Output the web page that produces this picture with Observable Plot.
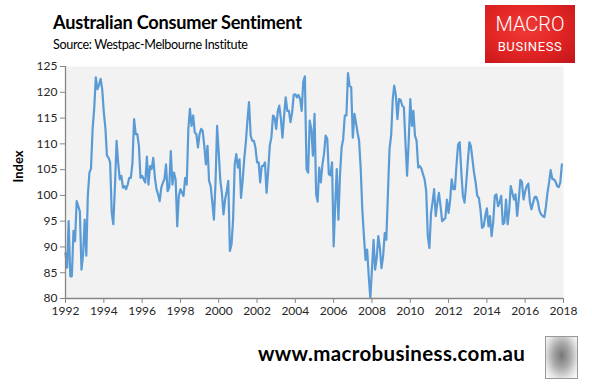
<!DOCTYPE html>
<html>
<head>
<meta charset="utf-8">
<script src="https://cdn.jsdelivr.net/npm/d3@7"></script>
<script src="https://cdn.jsdelivr.net/npm/@observablehq/plot@0.6"></script>
<style>
  html, body { margin: 0; padding: 0; background: #fff; }
  #wrap { position: relative; width: 592px; height: 390px; overflow: hidden; font-family: Lato, "Open Sans", sans-serif; }
  #chart { position: absolute; left: 0; top: 0; }
  .title { position: absolute; left: 53px; top: 11px; font-size: 18.2px; letter-spacing: -0.25px; font-weight: bold; color: #000; white-space: nowrap; }
  .sub { position: absolute; left: 53px; top: 37px; font-size: 12.6px; letter-spacing: -0.35px; color: #000; white-space: nowrap; }
  .logo { position: absolute; left: 485px; top: 5px; width: 90px; height: 58px;
          background: radial-gradient(ellipse at 45% 40%, #f03a35 0%, #e02424 55%, #c0161a 100%); color: #fff; text-align: center; }
  .logo .m { position: absolute; left: 0; width: 90px; top: 9px; font-family: Roboto, sans-serif; font-weight: 300; font-size: 20px; line-height: 20px; }
  .logo .b { position: absolute; left: 0; width: 90px; top: 35px; font-family: Roboto, sans-serif; font-weight: 400; font-size: 13px; letter-spacing: 0.6px; line-height: 14px; }
  .foot { position: absolute; left: 258px; top: 341px; font-size: 20.5px; letter-spacing: 0.35px; font-weight: bold; color: #000; white-space: nowrap; }
  .wolf { position: absolute; left: 545px; top: 336px; width: 33px; height: 43px; border: 1.5px solid #999; box-sizing: border-box;
          background: radial-gradient(ellipse at 50% 45%, #777 0%, #aaa 40%, #e6e6e6 75%, #fff 100%); }
</style>
</head>
<body>
<div id="wrap">
  <div id="chart"></div>
  <div class="title">Australian Consumer Sentiment</div>
  <div class="sub">Source: Westpac-Melbourne Institute</div>
  <div class="logo"><div class="m">MACRO</div><div class="b">BUSINESS</div></div>
  <div class="foot">www.macrobusiness.com.au</div>
  <div class="wolf"></div>
</div>
<script>
// Monthly index values, Jan 1992 .. Dec 2017 (one row per year)
const startYear = 1992;
const sentiment = [
  88.8, 86, 95, 84.3, 84.3, 93.1, 91.1, 98.9, 97.9, 96.9, 85.6, 88.5,
  95.3, 88.3, 99.9, 104.4, 105.2, 112.9, 116.8, 122.9, 120.6, 121.4, 122.6, 120.6,
  116.1, 112.9, 107.7, 107.3, 106.4, 96.6, 94.4, 101.8, 110.6, 106.4, 103.1, 103.8,
  101.5, 101.8, 101.2, 102.1, 103.4, 103.4, 106.4, 114.8, 111.9, 111.9, 109.6, 103.4,
  103.8, 103.1, 102.5, 107.5, 102.1, 105.7, 105.1, 107.3, 103.4, 101.2, 100.2, 98.9,
  101.5, 102.5, 103.1, 106, 100.8, 101.5, 108.6, 102.1, 104.4, 103.1, 94, 99.9,
  101.2, 100.5, 99.9, 103.4, 102.1, 112.9, 116.8, 113.5, 115.5, 112.2, 111.9, 109.3,
  111.9, 112.9, 112.5, 109.6, 106, 109.6, 102.8, 101.8, 98.6, 95.3, 102.5, 113.5,
  108.3, 102.8, 100.5, 96.3, 99.2, 100.8, 102.8, 89.2, 90.5, 95.3, 106, 108,
  105.4, 107, 99.5, 102.8, 107, 110.3, 114.5, 118.1, 111.6, 110.6, 110.6, 109.3,
  106.4, 106.4, 102.5, 105.7, 105.7, 106.4, 100.5, 104.7, 109.7, 111.2, 115.5, 115.1,
  112.9, 116.4, 117.4, 114.8, 111.2, 115.5, 119, 116.4, 116.4, 114.2, 116.1, 119.5,
  119.6, 119, 119.5, 118.7, 116.4, 122.1, 123.1, 105.1, 104.4, 114.5, 112.9, 107.7,
  115.8, 100.2, 98.8, 105.4, 102.5, 106, 108, 111.6, 111, 104.1, 103.9, 106.4,
  90.1, 98.6, 105.1, 95.3, 103.8, 109.3, 110.9, 115.5, 115.5, 123.7, 121.2, 121,
  111.2, 115.8, 114.2, 112.2, 110.6, 105.1, 97.3, 92.1, 87.5, 89.5, 84.3, 80.1,
  85.6, 91.4, 85.6, 87.9, 92.1, 89.8, 85.9, 88.2, 92.7, 91.4, 100.5, 109,
  111.6, 118.7, 121.3, 119.4, 114.8, 118.7, 118.5, 117.4, 117.1, 110.3, 103.8, 110.3,
  118.7, 113.5, 116.4, 111.6, 110.6, 105.4, 105.7, 105.2, 104.1, 103.1, 100.8, 92.1,
  89.8, 96.6, 98.6, 101.2, 96, 98.6, 100.5, 97.9, 95, 95.3, 95.6, 99.2,
  96.6, 99.2, 103.1, 101.2, 101.2, 106, 109.9, 110.3, 104.4, 99.9, 98.6, 102.1,
  106.4, 110.3, 109.6, 107, 104.4, 102.5, 99.9, 99.5, 97.2, 93.7, 94, 96,
  97.5, 94, 96, 92.1, 94.7, 99.9, 100.2, 97.9, 98.6, 99.9, 94.4, 94.7,
  99.2, 94.4, 97, 101.8, 100.5, 99.2, 100.2, 96, 99.2, 103, 102.6, 99.2,
  100.8, 101.8, 102.3, 98.6, 97.3, 98.6, 99.7, 99.7, 98.7, 97, 96.3, 96,
  95.8, 97.9, 100.5, 102.5, 104.9, 103.2, 103.1, 102.7, 101.8, 101.6, 102.5, 106
];
const yTicks = [80, 85, 90, 95, 100, 105, 110, 115, 120, 125];
const xTickYears = [1992, 1994, 1996, 1998, 2000, 2002, 2004, 2006, 2008, 2010, 2012, 2014, 2016, 2018];

const data = sentiment.map((v, i) => ({ date: new Date(Date.UTC(startYear, i, 1)), value: v }));
const xTicks = xTickYears.map(y => new Date(Date.UTC(y, 0, 1)));
const x0 = new Date(Date.UTC(1992, 0, 1)), x1 = new Date(Date.UTC(2018, 0, 1));

const chart = Plot.plot({
  width: 592,
  height: 390,
  marginLeft: 65,
  marginRight: 29,
  marginTop: 66,
  marginBottom: 92,
  style: { fontFamily: "Lato, 'Open Sans', sans-serif", fontSize: "12px", color: "#262626", background: "transparent" },
  x: { type: "utc", domain: [x0, x1] },
  y: { domain: [80, 125] },
  marks: [
    Plot.frame({ fill: "#f2f2f2", stroke: null }),
    Plot.line(data, { x: "date", y: "value", stroke: "#5b9bd5", strokeWidth: 2.2, curve: "linear" }),
    Plot.ruleY([80], { stroke: "#868686", strokeWidth: 1.3 }),
    Plot.ruleX([x0], { stroke: "#868686", strokeWidth: 1.3 }),
    Plot.axisX({ ticks: xTicks, tickFormat: d => String(d.getUTCFullYear()), tickSize: 5, tickPadding: 3, stroke: "#868686", label: null, fontSize: 12, fill: "#262626" }),
    Plot.axisY({ ticks: yTicks, tickSize: 5, tickPadding: 3, stroke: "#868686", label: null, fontSize: 12 }),
    Plot.text(["Index"], { frameAnchor: "left", dx: -47, rotate: -90, fontWeight: "bold", fontSize: 13, fill: "#000" })
  ]
});
document.getElementById("chart").appendChild(chart);
</script>
</body>
</html>
